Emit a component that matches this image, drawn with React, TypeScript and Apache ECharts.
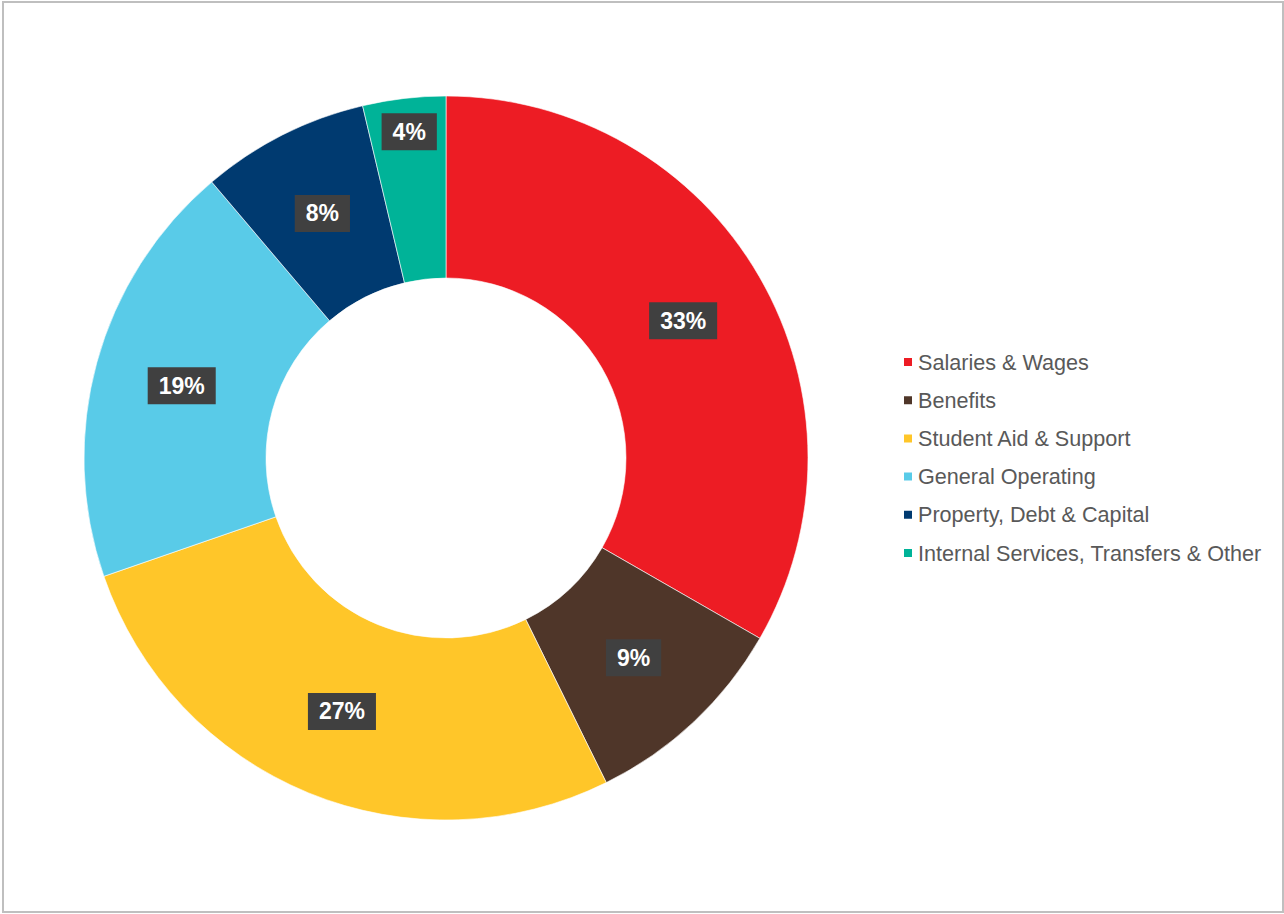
import React, { useEffect, useRef } from "react";
import * as echarts from "echarts";

const categories = [
  "Salaries & Wages",
  "Benefits",
  "Student Aid & Support",
  "General Operating",
  "Property, Debt & Capital",
  "Internal Services, Transfers & Other",
];
const values = [33.3, 9.4, 27.0, 19.1, 7.5, 3.7];
const colors = ["#ED1C24", "#4F3629", "#FFC629", "#59CBE8", "#003A70", "#00B398"];

const FONT = "'Liberation Sans', Arial, Helvetica, sans-serif";

export default function App() {
  const ref = useRef<HTMLDivElement>(null);
  useEffect(() => {
    if (!ref.current) return;
    const chart = echarts.init(ref.current, null, { renderer: "svg" });
    chart.setOption({
      animation: false,
      backgroundColor: "#ffffff",
      graphic: [
        {
          type: "rect",
          shape: { x: 3, y: 2, width: 1280, height: 910 },
          style: { fill: "none", stroke: "#bfbfbf", lineWidth: 2 },
          silent: true,
        },
      ],
      legend: {
        orient: "vertical",
        left: 902,
        top: 350,
        padding: 0,
        itemWidth: 10,
        itemHeight: 10,
        itemGap: 14.2,
        icon: "rect",
        data: categories,
        textStyle: {
          fontFamily: FONT,
          fontSize: 21.6,
          lineHeight: 24,
          color: "#595959",
        },
      },
      series: [
        {
          type: "pie",
          center: [446, 458],
          radius: [180, 362],
          startAngle: 90,
          clockwise: true,
          avoidLabelOverlap: false,
          itemStyle: { borderColor: "#ffffff", borderWidth: 0.6 },
          label: {
            show: true,
            position: "inside",
            formatter: (p: any) => Math.round(p.percent) + "%",
            color: "#ffffff",
            fontFamily: FONT,
            fontWeight: "bold",
            fontSize: 23,
            backgroundColor: "#404040",
            padding: [8, 11, 6, 11],
          },
          labelLine: { show: false },
          labelLayout: (params: any) => {
            if (params.dataIndex === 5) return { dx: -5, dy: -54 };
            return {};
          },
          emphasis: { disabled: true },
          data: categories.map((name, i) => ({
            name,
            value: values[i],
            itemStyle: { color: colors[i] },
          })),
        },
      ],
    });
    return () => chart.dispose();
  }, []);
  return (
    <div
      ref={ref}
      style={{ position: "absolute", left: 0, top: 0, width: 1284, height: 914 }}
    />
  );
}
